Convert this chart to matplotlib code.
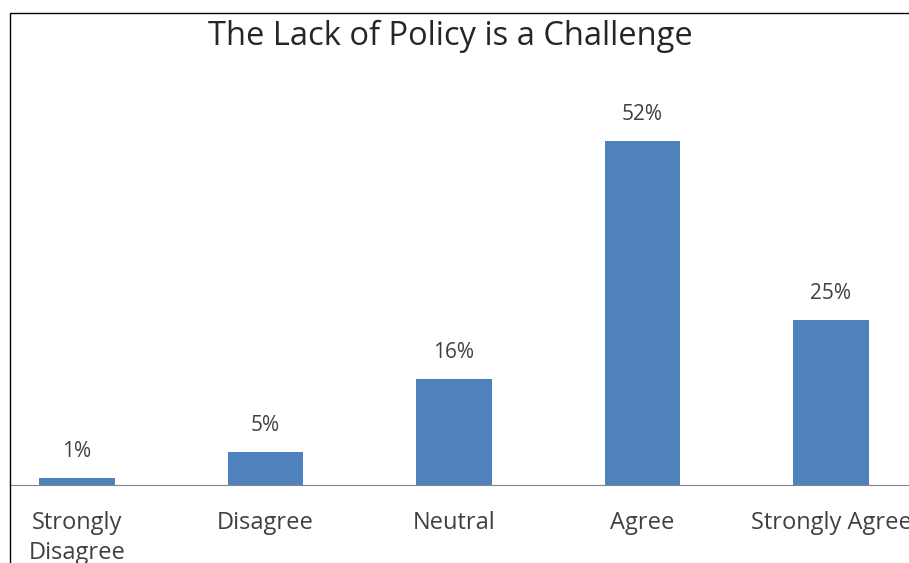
import matplotlib
matplotlib.use("Agg")
import matplotlib.pyplot as plt
from matplotlib.patches import Rectangle

categories = ["Strongly\nDisagree", "Disagree", "Neutral", "Agree", "Strongly Agree"]
values = [1, 5, 16, 52, 25]
title = "The Lack of Policy is a Challenge"

W, H = 909, 563
fig = plt.figure(figsize=(W / 100, H / 100), dpi=100)
plt.rcParams['font.family'] = ['Open Sans', 'DejaVu Sans']

# axes from border (x=10, y=13) to right edge, baseline at y=485
ax = fig.add_axes([10 / W, (H - 485) / H, (W - 10) / W, (485 - 13) / H])
ax.bar(range(len(values)), values, width=0.4, color="#4F81BD")
ax.set_xlim(-0.355, 4.414)
ax.set_ylim(0, 71.3)

for i, v in enumerate(values):
    ax.text(i, v + 2.4, f"{v}%", ha="center", va="bottom", fontsize=15, color="#404040")

for s in ["top", "right", "left"]:
    ax.spines[s].set_visible(False)
ax.spines["bottom"].set_color("#868686")
ax.set_yticks([])
ax.set_xticks(range(len(categories)))
ax.set_xticklabels(categories, fontsize=17, color="#404040", va="top", linespacing=1.3)
ax.tick_params(axis="x", length=0, pad=19)

fig.text(450 / W, 1 - 36 / H, title, ha="center", va="center", fontsize=23.5, color="#262626")

# outer frame (cropped on right and bottom)
fig.patches.append(Rectangle((10 / W, -0.1), 1.2, 1 - 13 / H + 0.1, transform=fig.transFigure,
                             fill=False, edgecolor="black", linewidth=1.0))

fig.savefig("out.png", dpi=100)
